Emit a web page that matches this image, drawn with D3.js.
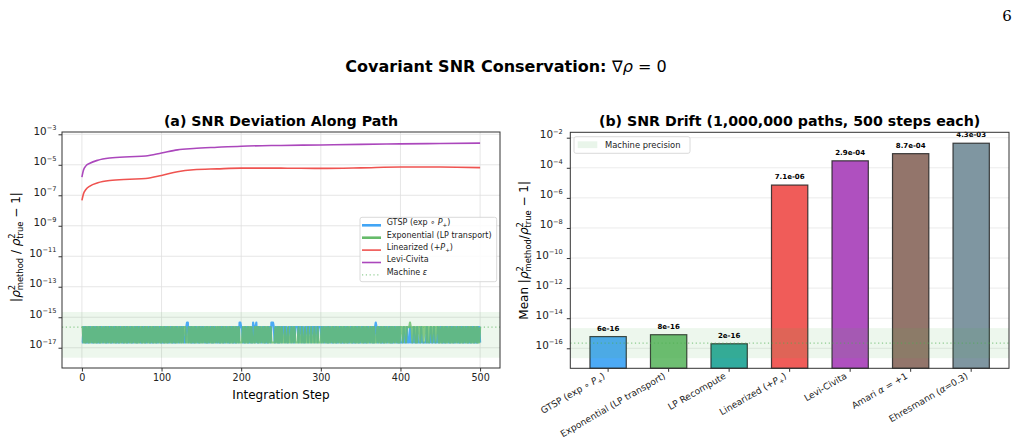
<!DOCTYPE html>
<html>
<head>
<meta charset="utf-8">
<script src="https://cdnjs.cloudflare.com/ajax/libs/d3/7.8.5/d3.min.js"></script>
<style>
  body { margin: 0; background: #fff; }
  svg, svg text { font-family: "DejaVu Sans", sans-serif; }
  svg { display: block; }
</style>
</head>
<body>
<div id="chart"></div>
<script>
const width = 1021,
    height = 448;

// ---- data ----
// (a) smooth curves, sampled at these steps
const steps = [0, 2, 5, 10, 20, 35, 60, 80, 100, 120, 140, 170, 200, 250, 300, 350, 400, 450, 500];
const linearized = [4.6e-8, 1.26e-7, 2.4e-7, 4.0e-7, 6.6e-7, 9.3e-7, 1.12e-6, 1.26e-6, 2.0e-6, 3.5e-6,
    4.7e-6, 5.4e-6, 6.0e-6, 6.0e-6, 5.8e-6, 6.3e-6, 7.2e-6, 7.1e-6, 6.5e-6];
const leviCivita = [1.55e-6, 4.5e-6, 8.5e-6, 1.26e-5, 2.0e-5, 2.8e-5, 3.4e-5, 3.8e-5, 5.9e-5, 9.5e-5,
    1.17e-4, 1.41e-4, 1.66e-4, 1.86e-4, 2.0e-4, 2.19e-4, 2.34e-4, 2.51e-4, 2.63e-4];

// (a) round-off noise, one level per step (0 = ~eps/10, 1 = eps, 2 = 2 eps)
const noiseLevels = [2.2e-17, 2.22e-16, 4.44e-16];
const gtspSteps = [
    '0011010010', '1100101101', '0010110011', '0100110100', '1101001011',
    '0010110100', '1101001101', '0110010110', '1001101001', '0110100110',
    '1001011010', '0110100101', '1001101100', '0122011010', '0101100101',
    '1011001010', '0110101100', '1001011010', '0110010110', '1001011022',
    '1100101101', '0010021012', '0101100110', '1001011022', '2100110101',
    '1011101100', '1110110011', '1101110110', '0111011101', '1101110111',
    '1011001101', '0110010110', '1001101001', '0110100110', '1001011010',
    '0110100101', '1001101012', '1001101001', '0110011010', '1001100101',
    '0000100010', '0010000100', '0100001000', '0001000010', '0010000100',
    '1101001011', '0010110100', '1100101101', '0011010010', '1101001011', '0'
].join('');
const expSteps = [
    '1100101101', '0011010010', '1101001100', '1011001011', '0010110100',
    '1101001011', '0010110010', '1001101001', '0110010110', '1001011001',
    '0110100101', '1001011010', '0110010011', '1000100101', '1010011010',
    '0100110101', '1001010011', '0110100101', '1001101001', '0110100100',
    '0011010010', '1101000101', '1010011001', '0110100100', '0001001010',
    '0100010001', '0001001100', '0010001000', '1000100010', '0010001000',
    '0100110010', '1001101001', '0110010110', '1001011001', '0110100101',
    '1001011010', '0110010100', '0110010110', '1001100101', '0110011010',
    '1110111011', '1121101110', '1011101110', '1110110111', '0111011101',
    '0010110100', '1101001011', '0011010010', '1100101101', '0010110100', '1'
].join('');

const machineEps = 2.22e-16;
const bandA = [2.2e-18, 2.2e-15];
const bandB = [2.2e-17, 2.2e-15];

const xTicksA = [0, 100, 200, 300, 400, 500];
const yExpA = [-3, -5, -7, -9, -11, -13, -15, -17];
const yExpB = [-2, -4, -6, -8, -10, -12, -14, -16];

// (b) bars
const methods = ['GTSP (exp ∘ $P$_{+})', 'Exponential (LP transport)', 'LP Recompute',
    'Linearized (+$P$_{+})', 'Levi-Civita', 'Amari $α$ = +1', 'Ehresmann ($α$=0.3)'];
const drift = [6e-16, 8e-16, 2e-16, 7.1e-6, 2.9e-4, 8.7e-4, 4.3e-3];
const driftText = ['6e-16', '8e-16', '2e-16', '7.1e-06', '2.9e-04', '8.7e-04', '4.3e-03'];

// colours
const barColors = ['#42A5F5', '#66BB6A', '#26A69A', '#EF5350', '#AB47BC', '#8D6E63', '#78909C'];
const blue = '#42A5F5', green = '#66BB6A', red = '#EF5350', purple = '#AB47BC', epsGreen = '#4CAF50';

const svg = d3.select('#chart')
    .append('svg')
    .attr('width', width)
    .attr('height', height);

// tiny mathtext: $x$ italic, ^{..} superscript, _{..} subscript (stacks under a superscript)
function rich(sel, str, fs, r) {
    r = r || 0.7;
    const parts = str.match(/\$[^$]+\$|\^\{[^}]*\}|_\{[^}]*\}|[^$^_]+/g);
    let off = 0, prevSupW = 0;
    parts.forEach(function(p) {
        let txt = p, style = 'normal', shift = 0, size = fs, dx = 0;
        if (p[0] === '$') { txt = p.slice(1, -1); style = 'italic'; }
        else if (p[0] === '^') { txt = p.slice(2, -1); shift = -0.42 * fs; size = r * fs; }
        else if (p[0] === '_') {
            txt = p.slice(2, -1); shift = 0.25 * fs; size = r * fs;
            if (prevSupW) dx = -prevSupW;
        }
        sel.append('tspan')
            .attr('dx', dx)
            .attr('dy', shift - off)
            .style('font-size', size + 'px')
            .style('font-style', style)
            .style('font-weight', 'normal')
            .text(txt);
        off = shift;
        prevSupW = p[0] === '^' ? txt.length * 0.64 * size : 0;
    });
}

// page number
svg.append('text')
    .attr('x', 1007).attr('y', 21)
    .attr('text-anchor', 'middle')
    .style('font-family', '"DejaVu Serif", "Liberation Serif", serif')
    .style('font-size', '15px')
    .text('6');

// figure title
const sup = svg.append('text')
    .attr('x', 506).attr('y', 72)
    .attr('text-anchor', 'middle')
    .style('font-size', '16px');
sup.append('tspan').style('font-weight', 'bold').text('Covariant SNR Conservation: ');
rich(sup, '∇$ρ$ = 0', 16);

// ================= (a) =================
const A = { x0: 62, x1: 500, y0: 132, y1: 368 };
const xA = d3.scaleLinear().domain([-25, 525]).range([A.x0, A.x1]);
const yA = d3.scaleLog().domain([Math.pow(10, -18.33), Math.pow(10, -2.849)]).range([A.y1, A.y0]);

const gA = svg.append('g');

// grid
gA.selectAll('.vg').data(xTicksA).enter().append('line')
    .attr('x1', d => xA(d)).attr('x2', d => xA(d))
    .attr('y1', A.y0).attr('y2', A.y1)
    .attr('stroke', '#e0e0e0').attr('stroke-width', 0.8);
gA.selectAll('.hg').data(yExpA).enter().append('line')
    .attr('x1', A.x0).attr('x2', A.x1)
    .attr('y1', d => yA(Math.pow(10, d))).attr('y2', d => yA(Math.pow(10, d)))
    .attr('stroke', '#e0e0e0').attr('stroke-width', 0.8);

// machine precision band + eps line
gA.append('rect')
    .attr('x', A.x0).attr('width', A.x1 - A.x0)
    .attr('y', yA(bandA[1])).attr('height', yA(bandA[0]) - yA(bandA[1]))
    .attr('fill', epsGreen).attr('fill-opacity', 0.1);
gA.append('line')
    .attr('x1', A.x0).attr('x2', A.x1)
    .attr('y1', yA(machineEps)).attr('y2', yA(machineEps))
    .attr('stroke', epsGreen).attr('stroke-opacity', 0.6)
    .attr('stroke-width', 1.2).attr('stroke-dasharray', '1.2,2.6');

// noise series
const noiseLine = d3.line()
    .x((d, i) => xA(i))
    .y(d => yA(noiseLevels[+d]));
gA.append('path')
    .attr('d', noiseLine(gtspSteps.split('')))
    .attr('fill', 'none').attr('stroke', blue).attr('stroke-width', 2.2)
    .attr('stroke-opacity', 0.95).attr('stroke-linejoin', 'round');
gA.append('path')
    .attr('d', noiseLine(expSteps.split('')))
    .attr('fill', 'none').attr('stroke', green).attr('stroke-width', 2.2)
    .attr('stroke-opacity', 0.8).attr('stroke-linejoin', 'round');

// smooth series
const curve = d3.line()
    .x(d => xA(d[0]))
    .y(d => yA(d[1]))
    .curve(d3.curveMonotoneX);
gA.append('path')
    .attr('d', curve(d3.zip(steps, linearized)))
    .attr('fill', 'none').attr('stroke', red).attr('stroke-width', 1.6);
gA.append('path')
    .attr('d', curve(d3.zip(steps, leviCivita)))
    .attr('fill', 'none').attr('stroke', purple).attr('stroke-width', 1.6);

// axes
const axAx = gA.append('g')
    .attr('transform', 'translate(0,' + A.y1 + ')')
    .call(d3.axisBottom(xA).tickValues(xTicksA).tickSize(3.5).tickPadding(3));
axAx.attr('font-family', null);
axAx.select('.domain').remove();
axAx.selectAll('text').style('font-size', '9.6px').attr('fill', '#222');

const axAy = gA.append('g')
    .attr('transform', 'translate(' + A.x0 + ',0)')
    .call(d3.axisLeft(yA).tickValues(yExpA.map(e => Math.pow(10, e))).tickSize(3.5).tickFormat(() => ''));
axAy.attr('font-family', null);
axAy.select('.domain').remove();
axAy.selectAll('.tick text').each(function(d) {
    const t = d3.select(this).attr('x', -5.5).attr('dy', '0.42em').attr('fill', '#222');
    rich(t, '10^{−' + Math.round(-Math.log10(d)) + '}', 10.4, 0.64);
});
gA.selectAll('.tick line').attr('stroke', '#333');

gA.append('rect')
    .attr('x', A.x0).attr('y', A.y0)
    .attr('width', A.x1 - A.x0).attr('height', A.y1 - A.y0)
    .attr('fill', 'none').attr('stroke', '#333').attr('stroke-width', 1);

gA.append('text')
    .attr('x', (A.x0 + A.x1) / 2).attr('y', 126)
    .attr('text-anchor', 'middle')
    .style('font-size', '14.2px').style('font-weight', 'bold')
    .text('(a) SNR Deviation Along Path');
gA.append('text')
    .attr('x', (A.x0 + A.x1) / 2).attr('y', 399)
    .attr('text-anchor', 'middle')
    .style('font-size', '12px')
    .text('Integration Step');
const ylabA = gA.append('text')
    .attr('transform', 'translate(20,' + ((A.y0 + A.y1) / 2 - 3) + ') rotate(-90)')
    .attr('text-anchor', 'middle')
    .style('font-size', '12px');
rich(ylabA, '|$ρ$^{2}_{method} / $ρ$^{2}_{true} − 1|', 12);

// legend (a)
const legA = gA.append('g').attr('transform', 'translate(360,217.3)');
legA.append('rect')
    .attr('width', 136.7).attr('height', 64.4).attr('rx', 2)
    .attr('fill', '#fff').attr('fill-opacity', 0.85)
    .attr('stroke', '#d0d0d0').attr('stroke-width', 0.8);
const legItems = [
    { label: 'GTSP (exp ∘ $P$_{+})', color: blue, w: 2.6, dash: null },
    { label: 'Exponential (LP transport)', color: green, w: 2.6, dash: null },
    { label: 'Linearized (+$P$_{+})', color: red, w: 1.6, dash: null },
    { label: 'Levi-Civita', color: purple, w: 1.6, dash: null },
    { label: 'Machine $ε$', color: epsGreen, w: 1.2, dash: '1.2,2.6' }
];
legItems.forEach(function(it, i) {
    const yy = 8 + i * 12.4;
    legA.append('line')
        .attr('x1', 2).attr('x2', 21).attr('y1', yy).attr('y2', yy)
        .attr('stroke', it.color).attr('stroke-width', it.w)
        .attr('stroke-opacity', it.dash ? 0.6 : 1)
        .attr('stroke-dasharray', it.dash);
    const t = legA.append('text').attr('x', 26.7).attr('y', yy).attr('dy', '0.35em')
        .style('font-size', '8px').attr('fill', '#222');
    rich(t, it.label, 8);
});

// ================= (b) =================
const B = { x0: 570.3, x1: 1009, y0: 132.3, y1: 368.3 };
const xB = d3.scaleBand()
    .domain(d3.range(methods.length))
    .range([B.x0, B.x1])
    .paddingInner(0.4)
    .paddingOuter(0.325);
const yB = d3.scaleLog().domain([Math.pow(10, -17.33), Math.pow(10, -1.641)]).range([B.y1, B.y0]);

const gB = svg.append('g');

gB.selectAll('.hg').data(yExpB).enter().append('line')
    .attr('x1', B.x0).attr('x2', B.x1)
    .attr('y1', d => yB(Math.pow(10, d))).attr('y2', d => yB(Math.pow(10, d)))
    .attr('stroke', '#e6e6e6').attr('stroke-width', 0.8);

// bars
gB.selectAll('.bar').data(drift).enter().append('rect')
    .attr('x', (d, i) => xB(i))
    .attr('y', d => yB(d))
    .attr('width', xB.bandwidth())
    .attr('height', d => B.y1 - yB(d))
    .attr('fill', (d, i) => barColors[i])
    .attr('fill-opacity', 0.95)
    .attr('stroke', '#222').attr('stroke-opacity', 0.85).attr('stroke-width', 1.2);

// band + eps line over bars
gB.append('rect')
    .attr('x', B.x0).attr('width', B.x1 - B.x0)
    .attr('y', yB(bandB[1])).attr('height', yB(bandB[0]) - yB(bandB[1]))
    .attr('fill', epsGreen).attr('fill-opacity', 0.1);
gB.append('line')
    .attr('x1', B.x0).attr('x2', B.x1)
    .attr('y1', yB(machineEps)).attr('y2', yB(machineEps))
    .attr('stroke', epsGreen).attr('stroke-opacity', 0.6)
    .attr('stroke-width', 1.2).attr('stroke-dasharray', '1.2,2.6');

// value labels
gB.selectAll('.val').data(drift).enter().append('text')
    .attr('x', (d, i) => xB(i) + xB.bandwidth() / 2)
    .attr('y', d => yB(d) - 6)
    .attr('text-anchor', 'middle')
    .style('font-size', '7px').style('font-weight', 'bold')
    .text((d, i) => driftText[i]);

// axes
const axBx = gB.append('g')
    .attr('transform', 'translate(0,' + B.y1 + ')')
    .call(d3.axisBottom(xB).tickSize(3.5).tickFormat(() => ''));
axBx.attr('font-family', null);
axBx.select('.domain').remove();
axBx.selectAll('.tick text').each(function(d) {
    const t = d3.select(this)
        .attr('x', 0).attr('y', 0).attr('dy', '0.4em')
        .attr('transform', 'translate(-2.5,9.5) rotate(-30)')
        .attr('text-anchor', 'end').attr('fill', '#222');
    rich(t, methods[d], 9.1);
});

const axBy = gB.append('g')
    .attr('transform', 'translate(' + B.x0 + ',0)')
    .call(d3.axisLeft(yB).tickValues(yExpB.map(e => Math.pow(10, e))).tickSize(3.5).tickFormat(() => ''));
axBy.attr('font-family', null);
axBy.select('.domain').remove();
axBy.selectAll('.tick text').each(function(d) {
    const t = d3.select(this).attr('x', -7.5).attr('dy', '0.42em').attr('fill', '#222');
    rich(t, '10^{−' + Math.round(-Math.log10(d)) + '}', 10.4, 0.64);
});
gB.selectAll('.tick line').attr('stroke', '#333');

gB.append('rect')
    .attr('x', B.x0).attr('y', B.y0)
    .attr('width', B.x1 - B.x0).attr('height', B.y1 - B.y0)
    .attr('fill', 'none').attr('stroke', '#333').attr('stroke-width', 1);

gB.append('text')
    .attr('x', (B.x0 + B.x1) / 2).attr('y', 126)
    .attr('text-anchor', 'middle')
    .style('font-size', '14.2px').style('font-weight', 'bold')
    .text('(b) SNR Drift (1,000,000 paths, 500 steps each)');
const ylabB = gB.append('text')
    .attr('transform', 'translate(528,' + ((B.y0 + B.y1) / 2) + ') rotate(-90)')
    .attr('text-anchor', 'middle')
    .style('font-size', '12px');
rich(ylabB, 'Mean |$ρ$^{2}_{method}/$ρ$^{2}_{true} − 1|', 12);

// legend (b)
const legB = gB.append('g').attr('transform', 'translate(574,136.7)');
legB.append('rect')
    .attr('width', 116).attr('height', 16.6).attr('rx', 2)
    .attr('fill', '#fff').attr('fill-opacity', 0.85)
    .attr('stroke', '#d0d0d0').attr('stroke-width', 0.8);
legB.append('rect')
    .attr('x', 3.7).attr('y', 4.6).attr('width', 19.6).attr('height', 6.8)
    .attr('fill', epsGreen).attr('fill-opacity', 0.12);
legB.append('text')
    .attr('x', 31).attr('y', 8.1).attr('dy', '0.35em')
    .style('font-size', '8.4px').attr('fill', '#222')
    .text('Machine precision');
</script>
</body>
</html>
